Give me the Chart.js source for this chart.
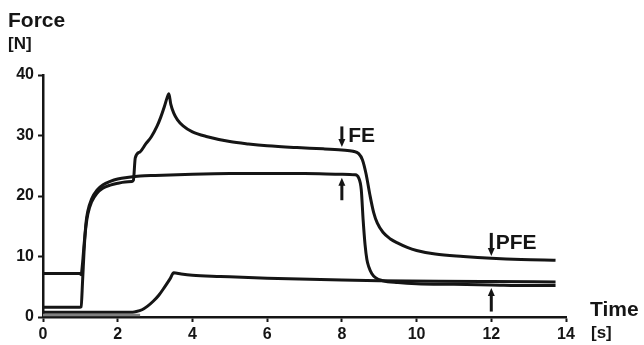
<!DOCTYPE html>
<html><head><meta charset="utf-8">
<script src="https://cdn.jsdelivr.net/npm/chart.js@4.4.0/dist/chart.umd.min.js"></script>
<style>html,body{margin:0;padding:0;background:#fff}#wrap{width:644px;height:345px;position:relative}</style>
</head><body><div id="wrap"><canvas id="c" width="644" height="345"></canvas></div>
<script>
// Curve A (upper, FE)
const tA = [0,0.98,1.02,1.06,1.1,1.15,1.2,1.3,1.45,1.6,1.8,2.0,2.2,2.38,2.42,2.47,2.6,2.75,2.9,3.05,3.15,3.25,3.32,3.37,3.42,3.5,3.6,3.75,4.0,4.4,5.0,5.5,6.0,6.8,7.5,8.0,8.3,8.45,8.55,8.65,8.75,8.85,8.95,9.1,9.3,9.5,9.75,10.0,10.5,11.25,12.0,12.8,13.72];
const fA = [7.2,7.2,7.0,9,12,15,17,19,20.5,21.3,21.8,22.1,22.3,22.4,22.6,26.3,27.3,28.6,29.8,31.5,33,34.8,36.2,36.9,35.2,33.7,32.6,31.6,30.6,29.8,29.0,28.6,28.3,28.0,27.8,27.6,27.4,27.0,26.0,23.6,20.2,17.3,15.5,14.0,12.9,12.2,11.5,11.0,10.4,10.0,9.7,9.5,9.4];
// Curve B (isometric reference)
const tB = [0,0.98,1.02,1.06,1.1,1.15,1.2,1.3,1.45,1.6,1.8,2.0,2.3,2.6,3.0,4.0,5.0,6.0,7.0,8.0,8.35,8.45,8.52,8.57,8.62,8.67,8.72,8.8,8.9,9.1,9.5,10.0,11.0,12.0,13.0,13.72];
const fB = [1.6,1.6,1.7,6,11,15.5,17.5,19.5,21,21.8,22.4,22.8,23.1,23.3,23.4,23.6,23.7,23.7,23.7,23.6,23.5,23.0,21.0,16,12.0,9.5,8.3,7.2,6.5,6.0,5.7,5.5,5.4,5.3,5.2,5.2];
// Curve C (passive stretch)
const tC = [0,2.4,2.5,2.65,2.8,2.95,3.1,3.25,3.4,3.5,3.7,4.0,4.75,6.0,8.0,9.0,10.6,12.0,13.72];
const fC = [0.8,0.8,0.9,1.2,1.8,2.6,3.6,4.9,6.3,7.3,7.1,6.9,6.7,6.4,6.1,6.0,5.9,5.85,5.8];
// Gray baseline trace
const tG = [0,2.6];
const fG = [0.35,0.35];
// Axis ticks
const xTicks = [0,2,4,6,8,10,12,14];
const yTicks = [0,10,20,30,40];
// Arrows (time, from force, to force) and labels
const arrows = [[8,31.5,28.1],[8,19.3,23.0],[12,13.9,10.1],[12,0.9,4.8]];
const labels = [["FE",8.17,28.9],["PFE",12.12,11.3]];

const pts = (t,f)=>t.map((v,i)=>({x:v,y:f[i]}));
const ink = '#151515';
const lineDs = (t,f,col,w)=>({data:pts(t,f),borderColor:col,borderWidth:w,pointRadius:0,fill:false,cubicInterpolationMode:'monotone',clip:false});

const annot = {
  id:'annot',
  afterDatasetsDraw(chart){
    const ctx = chart.ctx, xs = chart.scales.x, ys = chart.scales.y;
    ctx.save();
    ctx.fillStyle = ink; ctx.strokeStyle = ink;
    arrows.forEach(([t,a,b])=>{
      const x = xs.getPixelForValue(t), y0 = ys.getPixelForValue(a), y1 = ys.getPixelForValue(b);
      const dir = Math.sign(y1-y0);
      ctx.lineWidth = 3;
      ctx.beginPath(); ctx.moveTo(x,y0); ctx.lineTo(x,y1-dir*6); ctx.stroke();
      ctx.beginPath(); ctx.moveTo(x,y1); ctx.lineTo(x-3.5,y1-dir*8); ctx.lineTo(x+3.5,y1-dir*8); ctx.closePath(); ctx.fill();
    });
    ctx.font = 'bold 21px "Liberation Sans", Arial, sans-serif';
    ctx.textBaseline = 'alphabetic'; ctx.textAlign = 'left';
    labels.forEach(([s,t,f])=>{
      ctx.fillText(s, xs.getPixelForValue(t), ys.getPixelForValue(f));
    });
    ctx.font = 'bold 21px "Liberation Sans", Arial, sans-serif';
    ctx.fillText('Force', 8, 27);
    ctx.fillText('Time', 590, 316);
    ctx.font = 'bold 17px "Liberation Sans", Arial, sans-serif';
    ctx.fillText('[N]', 8, 49);
    ctx.fillText('[s]', 591, 338);
    ctx.restore();
  }
};

new Chart(document.getElementById('c'), {
  type:'line',
  data:{datasets:[
    lineDs(tG,fG,'#808080',2.5),
    lineDs(tC,fC,ink,3),
    lineDs(tB,fB,ink,3),
    lineDs(tA,fA,ink,3)
  ]},
  options:{
    responsive:false, animation:false, devicePixelRatio:1,
    layout:{padding:{left:0,top:75,right:78,bottom:0}},
    plugins:{legend:{display:false},tooltip:{enabled:false}},
    scales:{
      x:{type:'linear',min:0,max:14,
        afterBuildTicks(s){s.ticks = xTicks.map(v=>({value:v}));},
        afterFit(s){s.height = 28;},
        border:{display:true,color:ink,width:2.5},
        grid:{display:true,drawOnChartArea:false,drawTicks:true,tickLength:5,tickWidth:2,tickColor:ink},
        ticks:{color:ink,font:{family:'"Liberation Sans", Arial, sans-serif',size:16,weight:'bold'},padding:3,maxRotation:0}
      },
      y:{type:'linear',min:0,max:40,
        afterBuildTicks(s){s.ticks = yTicks.map(v=>({value:v}));},
        afterFit(s){s.width = 43;},
        border:{display:true,color:ink,width:2.5},
        grid:{display:true,drawOnChartArea:false,drawTicks:true,tickLength:5,tickWidth:2,tickColor:ink},
        ticks:{color:ink,font:{family:'"Liberation Sans", Arial, sans-serif',size:16,weight:'bold'},padding:4}
      }
    }
  },
  plugins:[annot]
});
</script></body></html>
